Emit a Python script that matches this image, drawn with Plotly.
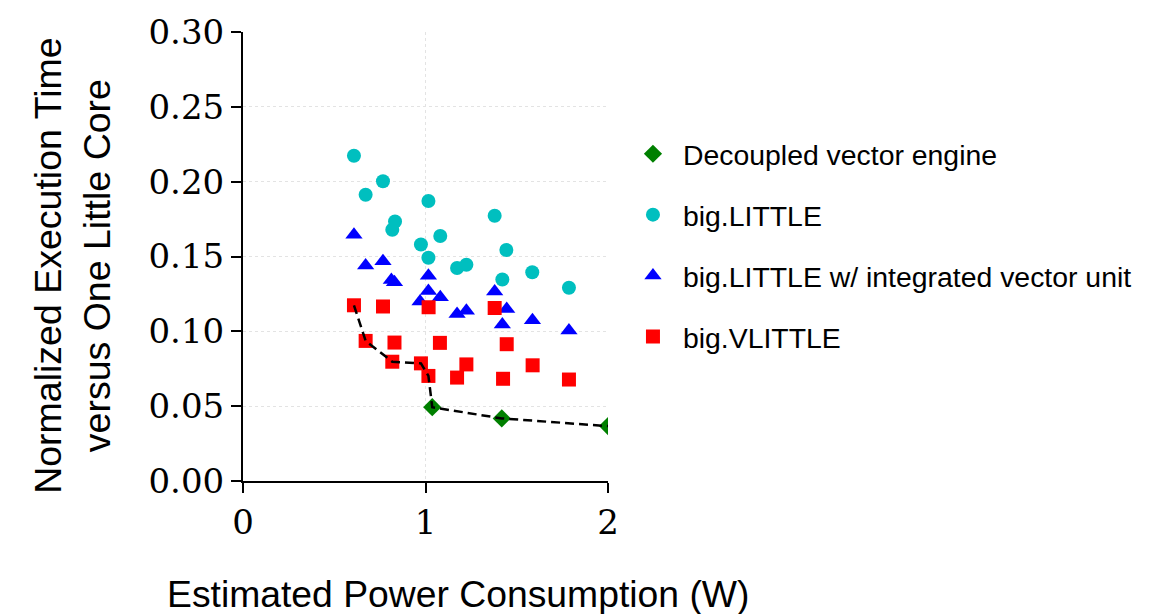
import plotly.graph_objects as go

# Estimated power (W) and normalized execution time for each design point
decoupled_power = [1.037, 1.418, 2.0]
decoupled_time = [0.0493, 0.0418, 0.0367]

big_little_power = [0.608, 0.672, 0.767, 0.818, 0.833, 0.975, 1.016, 1.016,
                    1.081, 1.173, 1.224, 1.379, 1.421, 1.443, 1.585, 1.786]
big_little_time = [0.2173, 0.1913, 0.2003, 0.1679, 0.1734, 0.1580, 0.1871, 0.1492,
                   0.1637, 0.1423, 0.1445, 0.1772, 0.1346, 0.1543, 0.1395, 0.1291]

big_little_ivu_power = [0.608, 0.672, 0.767, 0.813, 0.830, 0.970, 1.016, 1.016,
                        1.081, 1.173, 1.224, 1.379, 1.421, 1.445, 1.586, 1.786]
big_little_ivu_time = [0.1645, 0.1440, 0.1469, 0.1343, 0.1328, 0.1200, 0.1372, 0.1270,
                       0.1228, 0.1116, 0.1138, 0.1266, 0.1045, 0.1149, 0.1074, 0.1005]

big_vlittle_power = [0.608, 0.672, 0.767, 0.818, 0.830, 0.975, 1.016, 1.017,
                     1.079, 1.173, 1.224, 1.379, 1.425, 1.445, 1.587, 1.786]
big_vlittle_time = [0.1174, 0.0936, 0.1166, 0.0797, 0.0925, 0.0786, 0.0702, 0.1161,
                    0.0923, 0.0691, 0.0779, 0.1156, 0.0683, 0.0914, 0.0773, 0.0678]

x_ticks = [0, 1, 2]
y_ticks = [0.00, 0.05, 0.10, 0.15, 0.20, 0.25, 0.30]

# Pareto frontier over all design points (lowest time for a given power)
all_points = sorted(
    list(zip(big_little_power, big_little_time))
    + list(zip(big_little_ivu_power, big_little_ivu_time))
    + list(zip(big_vlittle_power, big_vlittle_time))
    + list(zip(decoupled_power, decoupled_time))
)
frontier_x, frontier_y = [], []
best = float("inf")
for px, py in all_points:
    if py < best:
        best = py
        frontier_x.append(px)
        frontier_y.append(py)

fig = go.Figure()

fig.add_trace(go.Scatter(
    x=big_little_power, y=big_little_time, mode="markers", name="big.LITTLE",
    legendgroup="b", legendrank=2,
    marker=dict(symbol="circle", size=14, color="#00BFBF", line=dict(width=0)),
))
fig.add_trace(go.Scatter(
    x=big_little_ivu_power, y=big_little_ivu_time, mode="markers",
    name="big.LITTLE w/ integrated vector unit", legendgroup="c", legendrank=3,
    marker=dict(symbol="triangle-up", size=15, color="#0000FF", line=dict(width=0)),
))
fig.add_trace(go.Scatter(
    x=big_vlittle_power, y=big_vlittle_time, mode="markers", name="big.VLITTLE",
    legendgroup="d", legendrank=4,
    marker=dict(symbol="square", size=14, color="#FF0000", line=dict(width=0)),
))
fig.add_trace(go.Scatter(
    x=decoupled_power, y=decoupled_time, mode="markers",
    name="Decoupled vector engine", legendgroup="a", legendrank=1,
    marker=dict(symbol="diamond", size=14, color="#008000", line=dict(width=0)),
))
fig.add_trace(go.Scatter(
    x=frontier_x, y=frontier_y, mode="lines", showlegend=False, hoverinfo="skip",
    line=dict(color="black", width=2.5, dash="9px,5px"),
))

axis_common = dict(
    showline=True, linecolor="black", linewidth=2,
    ticks="outside", ticklen=10, tickwidth=2, tickcolor="black",
    showgrid=True, gridcolor="#e3e3e3", griddash="dot", gridwidth=1,
    zeroline=False,
    tickfont=dict(family="DejaVu Serif", size=34, color="black"),
)

fig.update_xaxes(range=[0, 2], tickvals=x_ticks, ticktext=[str(v) for v in x_ticks],
                 **axis_common)
fig.update_yaxes(range=[0, 0.30], tickvals=y_ticks,
                 ticktext=[f"{v:.2f}" for v in y_ticks], **axis_common)

fig.add_annotation(
    text="Normalized Execution Time<br>versus One Little Core",
    xref="paper", yref="paper", x=-0.466, y=0.479, textangle=-90,
    showarrow=False, xanchor="center", yanchor="middle",
    font=dict(family="Liberation Sans", size=37.5, color="black"),
)
fig.add_annotation(
    text="Estimated Power Consumption (W)",
    xref="paper", yref="paper", x=0.589, y=-0.252,
    showarrow=False, xanchor="center", yanchor="middle",
    font=dict(family="Liberation Sans", size=37.3, color="black"),
)

fig.update_layout(
    width=1150, height=614,
    margin=dict(l=243, r=542, t=28, b=133),
    plot_bgcolor="white", paper_bgcolor="white",
    legend=dict(
        x=1.041, y=0.525, xanchor="left", yanchor="middle",
        traceorder="grouped", tracegroupgap=21, itemwidth=50,
        font=dict(family="Liberation Sans", size=28.4, color="black"),
        bgcolor="rgba(0,0,0,0)",
    ),
)

fig.write_html("out.html")
